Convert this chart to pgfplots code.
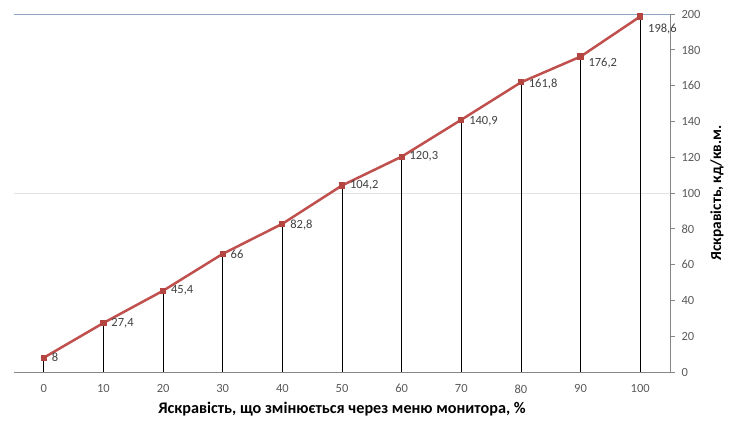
\documentclass[border=0pt]{standalone}
\usepackage{pgfplots}
\pgfplotsset{compat=1.18}
\usepackage{fontspec}
\setmainfont{Carlito}
\definecolor{lineRed}{HTML}{C0504D}
\definecolor{markRed}{HTML}{B54541}
\definecolor{tickGray}{HTML}{595959}
\definecolor{labGray}{HTML}{404040}
\definecolor{axisGray}{HTML}{868686}
\definecolor{topBlue}{HTML}{8EA5C6}
\pgfplotstableread{
x y dy
0 8 0
10 27.4 0
20 45.4 0
30 66 0
40 82.8 -1
50 104.2 0
60 120.3 0
70 140.9 -1
80 161.8 -2
90 176.2 -6
100 198.6 -13
}\datatab
\begin{document}
\begin{tikzpicture}[x=1pt,y=1pt]
\path[use as bounding box] (-14,-61) rectangle (726,372);
\begin{axis}[
  at={(0,0)}, anchor=south west,
  scale only axis, width=656pt, height=358pt,
  xmin=-5, xmax=105, ymin=0, ymax=200,
  axis x line*=bottom, axis y line*=right,
  axis line style={axisGray, line width=0.8pt},
  xtick={0,10,...,100}, ytick={0,20,...,200},
  major x tick style={draw=none},
  major y tick style={axisGray, line width=0.8pt},
  tick align=outside, major tick length=5pt,
  /pgf/number format/assume math mode=true,
  /pgf/number format/use comma,
  ticklabel style={font=\fontsize{12.5}{14}\selectfont, text=tickGray},
  xticklabel style={yshift=-4pt},
  yticklabel style={anchor=west, xshift=3pt},
  xlabel={Яскравість, що змінюється через меню монитора, \%},
  ylabel={Яскравість, кд/кв.м.},
  label style={font=\bfseries\fontsize{15.3}{17}\selectfont, text=black},
  xlabel style={font=\bfseries\fontsize{16.2}{18}\selectfont, at={(axis description cs:0.5,0)}, anchor=center, yshift=-37pt},
  ylabel style={at={(axis description cs:1,0.5)}, anchor=center, yshift=-47pt},
  clip=false,
]
\draw[gray!22, line width=0.8pt] (axis cs:-5,100) -- (axis cs:105,100);
\draw[topBlue, line width=0.9pt] (axis cs:-5,200) -- (axis cs:105,200);
\addplot[ycomb, black, line width=0.8pt, no markers] table[x=x, y=y] {\datatab};
\addplot[lineRed, line width=2.5pt, mark=square*, mark size=2.6pt,
  mark options={fill=markRed, draw=markRed, line width=0pt},
  visualization depends on={\thisrow{dy}\as\dy},
  nodes near coords={\pgfmathprintnumber[fixed, precision=1, use comma, assume math mode=true]{\pgfplotspointmeta}},
  nodes near coords style={anchor=west, inner sep=0pt, xshift=8pt, yshift=\dy, font=\fontsize{12.5}{14}\selectfont, text=labGray},
  point meta=explicit,
] table[x=x, y=y, meta=y] {\datatab};
\end{axis}
\end{tikzpicture}
\end{document}
